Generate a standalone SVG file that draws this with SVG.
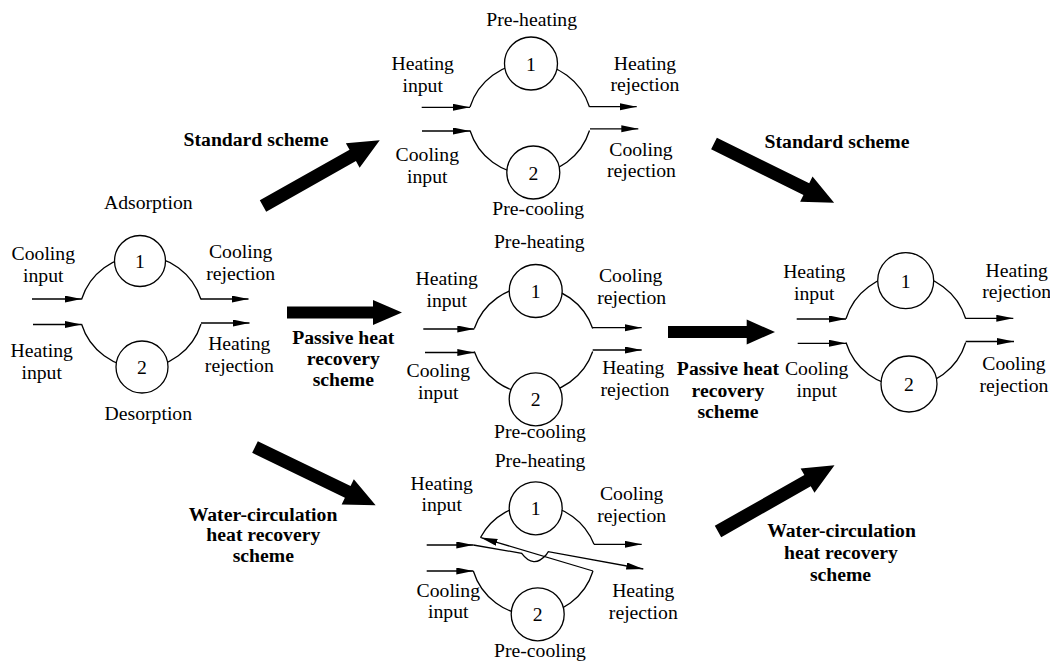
<svg xmlns="http://www.w3.org/2000/svg" width="1050" height="663" viewBox="0 0 1050 663">
<style>
.t{font-family:"Liberation Serif","Times New Roman",serif;font-size:19.7px;text-anchor:middle;fill:#000}
.b{font-weight:bold}
.ln{fill:none;stroke:#000;stroke-width:1.3}
.ar{fill:none;stroke:#000;stroke-width:1.3;marker-end:url(#ah)}
.c{fill:#fff;stroke:#000;stroke-width:1.3}
.big{fill:#000;stroke:none}
</style>
<defs>
<marker id="ah" markerUnits="userSpaceOnUse" markerWidth="18" markerHeight="8" refX="17" refY="3.5" orient="auto">
<path d="M0,0 L17,3.5 L0,7 z" fill="#000"/>
</marker>
<polygon id="dg" points="0,-6.5 103,-6.5 103,-14 134,0 103,14 103,6.5 0,6.5"/>
</defs>
<rect width="1050" height="663" fill="#fff"/>

<g id="unit-initial">
<path class="ln" d="M81.5,299.5 A62.6,62.6 0 0 1 201,299.5"/>
<path class="ln" d="M81.5,324 A62.6,62.6 0 0 0 201,324"/>
<circle class="c" cx="140" cy="261" r="25.5"/>
<circle class="c" cx="142" cy="367" r="26"/>
<text class="t" x="140" y="268">1</text>
<text class="t" x="142" y="374">2</text>
<path class="ar" d="M32,299 L81.5,299"/>
<path class="ar" d="M33,324.5 L81.5,324.5"/>
<path class="ar" d="M201,299 L248.5,299"/>
<path class="ar" d="M201,323 L249.5,323"/>
<text class="t" x="148.3" y="208.5">Adsorption</text>
<text class="t" x="43.3" y="260">Cooling</text>
<text class="t" x="43.3" y="281.7">input</text>
<text class="t" x="240.7" y="258.3">Cooling</text>
<text class="t" x="240.7" y="280">rejection</text>
<text class="t" x="41.7" y="357.3">Heating</text>
<text class="t" x="41.7" y="379.3">input</text>
<text class="t" x="239.3" y="350">Heating</text>
<text class="t" x="239.3" y="371.7">rejection</text>
<text class="t" x="148.3" y="419.5">Desorption</text>
</g>

<g id="unit-standard">
<path class="ln" d="M470,107 A62.6,62.6 0 0 1 589.5,107"/>
<path class="ln" d="M470,130.5 A62.6,62.6 0 0 0 589.5,130.5"/>
<circle class="c" cx="531" cy="63.5" r="26.5"/>
<circle class="c" cx="533.3" cy="172.5" r="26.5"/>
<text class="t" x="531" y="70.5">1</text>
<text class="t" x="533.3" y="179.5">2</text>
<path class="ar" d="M421.7,107.3 L470,107.3"/>
<path class="ar" d="M422,131 L470,131"/>
<path class="ar" d="M589.5,106.7 L636.7,106.7"/>
<path class="ar" d="M590,128.8 L638.3,128.8"/>
<text class="t" x="531.7" y="26">Pre-heating</text>
<text class="t" x="422.7" y="69.5">Heating</text>
<text class="t" x="422.7" y="91.5">input</text>
<text class="t" x="645" y="69.5">Heating</text>
<text class="t" x="645" y="91">rejection</text>
<text class="t" x="427.3" y="160.5">Cooling</text>
<text class="t" x="427.3" y="182.5">input</text>
<text class="t" x="641" y="156">Cooling</text>
<text class="t" x="641.5" y="177">rejection</text>
<text class="t" x="538.3" y="215">Pre-cooling</text>
</g>

<g id="unit-passive">
<path class="ln" d="M474.3,328.5 A62.6,62.6 0 0 1 592.7,328.5"/>
<path class="ln" d="M474.3,351.5 A62.6,62.6 0 0 0 592.7,351.5"/>
<circle class="c" cx="535.7" cy="291" r="26.5"/>
<circle class="c" cx="535.7" cy="399.3" r="26.5"/>
<text class="t" x="535.7" y="298">1</text>
<text class="t" x="535.7" y="406.3">2</text>
<path class="ar" d="M423.3,329 L474.3,329"/>
<path class="ar" d="M425,352.5 L474.3,352.5"/>
<path class="ar" d="M592.7,327.7 L641.7,327.7"/>
<path class="ar" d="M592.7,350 L641.7,350"/>
<text class="t" x="539.3" y="248">Pre-heating</text>
<text class="t" x="446.7" y="285">Heating</text>
<text class="t" x="446.7" y="307">input</text>
<text class="t" x="630.7" y="281.5">Cooling</text>
<text class="t" x="631.7" y="303.5">rejection</text>
<text class="t" x="438.3" y="376.5">Cooling</text>
<text class="t" x="438.3" y="398.5">input</text>
<text class="t" x="633.3" y="373.5">Heating</text>
<text class="t" x="635" y="396">rejection</text>
<text class="t" x="540" y="437.5">Pre-cooling</text>
</g>

<g id="unit-water">
<path class="ln" d="M480.5,537.5 A62.6,62.6 0 0 1 594,544.3"/>
<path class="ln" d="M473.3,571 A62.6,62.6 0 0 0 593,571"/>
<circle class="c" cx="535.7" cy="508.3" r="26.5"/>
<circle class="c" cx="537.7" cy="614.3" r="26.5"/>
<text class="t" x="535.7" y="515.3">1</text>
<text class="t" x="537.7" y="621.3">2</text>
<path class="ar" d="M426.7,545 L473.3,545"/>
<path class="ar" d="M426.7,571 L473.3,571"/>
<path class="ar" d="M594,544.3 L641.7,544.3"/>
<path class="ar" d="M473.3,545 L521.7,553.3 Q533.5,569 546,555 L548.3,551.7 L643.3,569"/>
<path class="ar" d="M593,571 L480.5,537.5"/>
<text class="t" x="540" y="466.7">Pre-heating</text>
<text class="t" x="441.7" y="490">Heating</text>
<text class="t" x="441.7" y="511">input</text>
<text class="t" x="631.7" y="500">Cooling</text>
<text class="t" x="631.7" y="521.5">rejection</text>
<text class="t" x="448.3" y="596.5">Cooling</text>
<text class="t" x="448.3" y="618">input</text>
<text class="t" x="643.3" y="596.5">Heating</text>
<text class="t" x="643.3" y="619">rejection</text>
<text class="t" x="540" y="657">Pre-cooling</text>
</g>

<g id="unit-final">
<path class="ln" d="M846,318.7 A62.6,62.6 0 0 1 965.7,318.7"/>
<path class="ln" d="M846,342.5 A62.6,62.6 0 0 0 965.7,342.5"/>
<circle class="c" cx="905.7" cy="280.7" r="28"/>
<circle class="c" cx="909" cy="384" r="28"/>
<text class="t" x="905.7" y="287.7">1</text>
<text class="t" x="909" y="391">2</text>
<path class="ar" d="M796.7,319 L846,319"/>
<path class="ar" d="M797.7,343.3 L846,343.3"/>
<path class="ar" d="M965.7,318.3 L1013.3,318.3"/>
<path class="ar" d="M965.7,341.5 L1014,341.5"/>
<text class="t" x="814.3" y="277.5">Heating</text>
<text class="t" x="814.3" y="299.5">input</text>
<text class="t" x="1016.7" y="276.5">Heating</text>
<text class="t" x="1016.7" y="297.5">rejection</text>
<text class="t" x="816.7" y="375">Cooling</text>
<text class="t" x="816.7" y="396.5">input</text>
<text class="t" x="1014" y="370">Cooling</text>
<text class="t" x="1014" y="391.5">rejection</text>
</g>

<g id="connectors">
<use href="#dg" class="big" transform="translate(263,206) rotate(-29.4)"/>
<use href="#dg" class="big" transform="translate(255,447) rotate(25.8)"/>
<use href="#dg" class="big" transform="translate(714,143.5) rotate(26.3)"/>
<use href="#dg" class="big" transform="translate(718,531.5) rotate(-29.6)"/>
<polygon class="big" points="287,306.5 373,306.5 373,300 402,312.5 373,325 373,318.5 287,318.5"/>
<polygon class="big" points="668,326 746.7,326 746.7,319.5 775,332 746.7,344.5 746.7,338 668,338"/>
<text class="t b" x="256" y="145.5">Standard scheme</text>
<text class="t b" x="343.3" y="343.5">Passive heat</text>
<text class="t b" x="343.3" y="365">recovery</text>
<text class="t b" x="343.3" y="386">scheme</text>
<text class="t b" x="263" y="520.5">Water-circulation</text>
<text class="t b" x="263.3" y="541">heat recovery</text>
<text class="t b" x="263.3" y="561.5">scheme</text>
<text class="t b" x="837" y="148.3">Standard scheme</text>
<text class="t b" x="728" y="375">Passive heat</text>
<text class="t b" x="728" y="396.5">recovery</text>
<text class="t b" x="728" y="418">scheme</text>
<text class="t b" x="841.5" y="537">Water-circulation</text>
<text class="t b" x="841" y="559">heat recovery</text>
<text class="t b" x="840.5" y="581">scheme</text>
</g>
</svg>
